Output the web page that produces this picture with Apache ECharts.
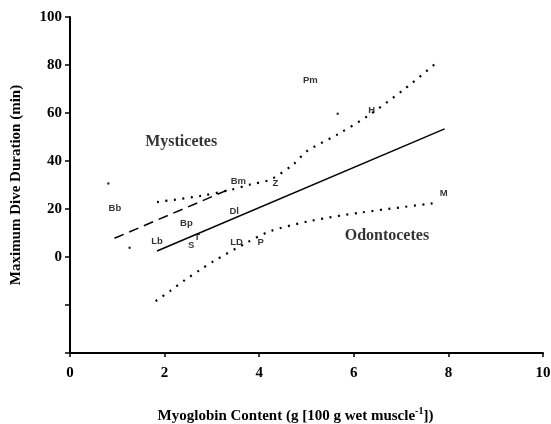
<!DOCTYPE html>
<html><head><meta charset="utf-8">
<script src="https://cdn.jsdelivr.net/npm/echarts@6/dist/echarts.min.js"></script>
<style>html,body{margin:0;padding:0;background:#fff}#c{width:551px;height:424px}</style>
</head><body><div id="c"></div>
<script>
// species labels: [myoglobin, max dive duration, code]
var speciesX = [5.08, 6.38, 7.9, 4.34, 3.56, 0.95, 2.46, 3.47, 1.84, 2.56, 2.69, 3.52, 4.03];
var speciesY = [73.5, 61, 26.5, 30.6, 31.4, 20.2, 14, 19, 6.5, 4.9, 8.2, 6.1, 6.1];
var speciesCode = ['Pm', 'H', 'M', 'Z', 'Bm', 'Bb', 'Bp', 'Dl', 'Lb', 'S', 'T', 'LD', 'P'];
// stray points
var dotX = [0.81, 1.26, 5.66];
var dotY = [30.6, 3.9, 59.7];
// overall regression (solid)
var regX = [1.84, 7.92];
var regY = [2.5, 53.4];
// mysticete regression (dashed)
var mystX = [0.94, 3.4];
var mystY = [7.8, 28.5];
// upper confidence band (dotted)
var upX = [1.84, 2.75, 3.4, 3.81, 4.24, 4.72, 5.01, 5.65, 6.29, 7.06, 7.8];
var upY = [22.9, 25.4, 28, 30.2, 32.3, 38.6, 44.1, 51, 58.7, 69.8, 81.8];
// lower confidence band (dotted)
var loX = [1.81, 2.12, 2.42, 2.74, 3.04, 3.74, 4.24, 5.08, 6.14, 7.77];
var loY = [-18.4, -14.1, -9.7, -5.5, -1.7, 6, 10.8, 15, 18.5, 22.6];
// group annotations
var groupX = [2.35, 6.7];
var groupY = [48.1, 8.7];
var groupName = ['Mysticetes', 'Odontocetes'];
var xTicks = [0, 2, 4, 6, 8, 10];
var yTicks = [0, 20, 40, 60, 80, 100];

function pairs(xs, ys, extra) {
  return xs.map(function (x, i) { return extra ? [x, ys[i], extra[i]] : [x, ys[i]]; });
}
var serif = '"Liberation Serif", "DejaVu Serif", serif';
var sans = '"Liberation Sans", Arial, sans-serif';

var chart = echarts.init(document.getElementById('c'), null, {renderer: 'canvas'});
chart.setOption({
  animation: false,
  backgroundColor: '#fff',
  grid: {left: 70, right: 8, top: 17, bottom: 71, containLabel: false, outerBoundsMode: 'none'},
  xAxis: {
    type: 'value', min: 0, max: 10, interval: 2,
    axisLine: {onZero: false, lineStyle: {color: '#000', width: 2}},
    axisTick: {show: true, inside: false, length: 4, lineStyle: {color: '#000', width: 1.5}},
    splitLine: {show: false},
    axisLabel: {color: '#000', fontFamily: serif, fontWeight: 'bold', fontSize: 15, margin: 13,
      formatter: function (v) { return xTicks.indexOf(v) >= 0 ? String(v) : ''; }},
    name: '{t|Myoglobin Content (g [100 g wet muscle}{s|-1}{t|])}',
    nameLocation: 'middle', nameGap: 53,
    nameTextStyle: {padding: [0, 22, 0, 0], rich: {
      t: {fontFamily: serif, fontWeight: 'bold', fontSize: 15, color: '#000', verticalAlign: 'bottom', lineHeight: 18},
      s: {fontFamily: serif, fontWeight: 'bold', fontSize: 10, color: '#000', verticalAlign: 'top', lineHeight: 18, padding: [0, 0, 7, 0]}
    }}
  },
  yAxis: {
    type: 'value', min: -40, max: 100, interval: 20,
    axisLine: {show: true, onZero: false, lineStyle: {color: '#000', width: 2}},
    axisTick: {show: true, inside: false, length: 5, lineStyle: {color: '#000', width: 1.5}},
    splitLine: {show: false},
    axisLabel: {color: '#000', fontFamily: serif, fontWeight: 'bold', fontSize: 15, margin: 8,
      formatter: function (v) { return yTicks.indexOf(v) >= 0 ? String(v) : ''; }},
    name: 'Maximum Dive Duration (min)',
    nameLocation: 'middle', nameGap: 46,
    nameTextStyle: {fontFamily: serif, fontWeight: 'bold', fontSize: 15, color: '#000'}
  },
  series: [
    {type: 'line', data: pairs(regX, regY), symbol: 'none', silent: true,
      lineStyle: {color: '#000', width: 1.5}},
    {type: 'line', data: pairs(mystX, mystY), symbol: 'none', silent: true,
      lineStyle: {color: '#000', width: 1.5, type: [10, 6]}},
    {type: 'line', data: pairs(upX, upY), symbol: 'none', smooth: 0.3, silent: true,
      lineStyle: {color: '#000', width: 2.2, type: [2, 6.5]}},
    {type: 'line', data: pairs(loX, loY), symbol: 'none', smooth: 0.3, silent: true,
      lineStyle: {color: '#000', width: 2.2, type: [2, 6.5]}},
    {type: 'scatter', data: pairs(dotX, dotY), symbolSize: 2.5, itemStyle: {color: '#000'}, silent: true},
    {type: 'scatter', data: pairs(speciesX, speciesY, speciesCode), symbolSize: 0, silent: true,
      label: {show: true, position: 'inside', formatter: function (p) { return p.data[2]; },
        color: '#000', fontFamily: sans, fontWeight: 'bold', fontSize: 9.5}},
    {type: 'scatter', data: pairs(groupX, groupY, groupName), symbolSize: 0, silent: true,
      label: {show: true, position: 'inside', formatter: function (p) { return p.data[2]; },
        color: '#000', fontFamily: serif, fontWeight: 'bold', fontSize: 16}}
  ]
});
</script></body></html>
